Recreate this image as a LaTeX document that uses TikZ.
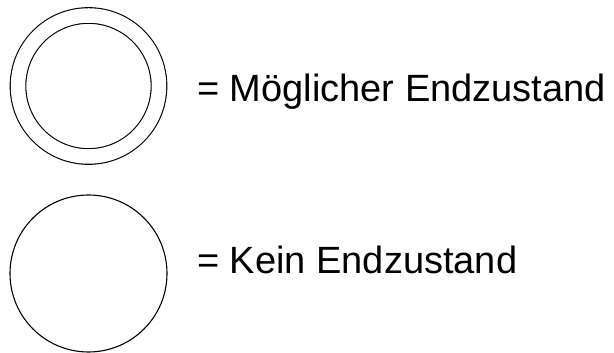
\documentclass[tikz,border=0pt]{standalone}
\usepackage{fontspec}
\setmainfont{Liberation Sans}
\usetikzlibrary{positioning}
\tikzset{
    zustand/.style={draw=black, circle, line width=1.1pt, inner sep=0pt, minimum size=157pt},
    endzustand/.style={zustand, double=white, double distance=14.5pt, minimum size=141pt},
    legende/.style={anchor=base west, inner sep=0pt, font=\fontsize{38}{44}\selectfont}
}
\begin{document}
\begin{tikzpicture}[x=1pt, y=1pt]
            \useasboundingbox (0, 0) rectangle (614, 353);
            \node[endzustand] (end) at (88.5, 267) {};
            \node[zustand] (kein) at (88.5, 79.5) {};
            \node[legende] (tend) at (197, 251) {= Möglicher Endzustand};
            \node[legende] (tkein) at (197, 79) {= Kein Endzustand};
        \end{tikzpicture}
\end{document}
